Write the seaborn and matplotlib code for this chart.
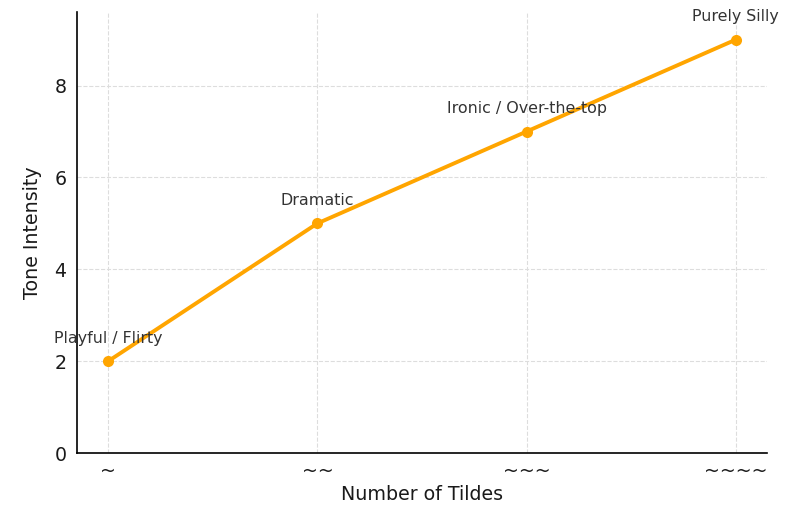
import matplotlib
matplotlib.use("Agg")
import matplotlib.pyplot as plt
import seaborn as sns
import pandas as pd

# data
tildes = ["~", "~~", "~~~", "~~~~"]
intensity = [2, 5, 7, 9]
tones = ["Playful / Flirty", "Dramatic", "Ironic / Over-the-top", "Purely Silly"]

df = pd.DataFrame({"tildes": tildes, "intensity": intensity})

sns.set_style("white")
plt.rcParams['font.family'] = ['DejaVu Sans']

fig = plt.figure(figsize=(8, 5.25), dpi=100)
ax = fig.add_axes([0.096, 0.137, 0.863, 0.84])

sns.lineplot(data=df, x="tildes", y="intensity", marker="o", color="#FFA500",
             linewidth=2.8, markersize=8, markeredgewidth=0, ax=ax, sort=False)

# tone labels above each point
for i, (x, y, t) in enumerate(zip(tildes, intensity, tones)):
    ax.text(i, y + 0.5, t, ha="center", va="center", fontsize=11.4, color="#333333")

ax.set_ylim(0, 9.6)
ax.set_xlim(-0.15, 3.15)
ax.set_xlabel("Number of Tildes", fontsize=13.7, color="#1a1a1a", labelpad=3)
ax.set_ylabel("Tone Intensity", fontsize=13.7, color="#1a1a1a", labelpad=9)
ax.tick_params(axis="both", labelsize=13.7, length=4, color="#333333", labelcolor="#1a1a1a")
ax.tick_params(axis="x", pad=2)
ax.grid(True, linestyle="--", color="#dddddd", linewidth=0.8)

for side in ["top", "right"]:
    ax.spines[side].set_visible(False)
for side in ["left", "bottom"]:
    ax.spines[side].set_color("black")
    ax.spines[side].set_linewidth(1.2)

plt.savefig("out.png", dpi=100)
